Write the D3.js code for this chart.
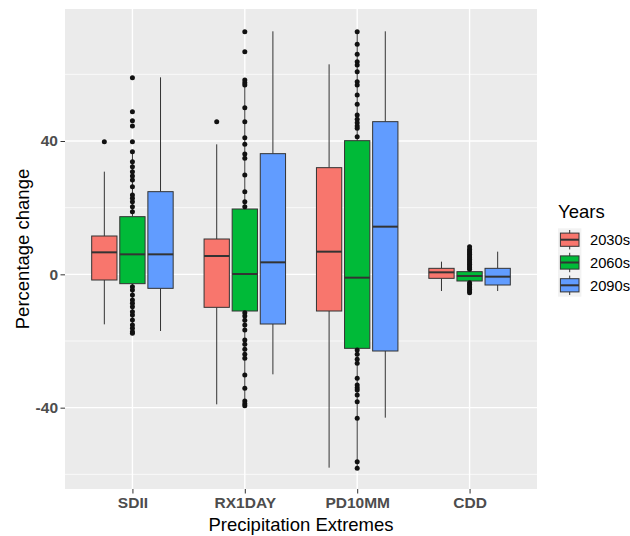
<!DOCTYPE html>
<html>
<head>
<meta charset="utf-8">
<script src="https://cdn.jsdelivr.net/npm/d3@7"></script>
<style>
  html, body { margin: 0; padding: 0; background: #ffffff; }
  svg { display: block; font-family: "Liberation Sans", Arial, sans-serif; }
</style>
</head>
<body>
<svg id="chart" width="630" height="536"></svg>
<script>
// Precipitation extremes, percentage change by period
const categories = ["SDII", "RX1DAY", "PD10MM", "CDD"];
const years = ["2030s", "2060s", "2090s"];
const colors = ["#F8766D", "#00BA38", "#619CFF"];
const yTicks = [-40, 0, 40];
const yMinor = [-60, -20, 20, 60];

// [lower whisker, Q1, median, Q3, upper whisker] for each category
const stats2030s = [
  [-15, -1.7, 6.6, 11.5, 30.8],
  [-39, -9.9, 5.5, 10.6, 39],
  [-58, -11, 6.8, 32, 63],
  [-5, -1.2, 0.6, 1.8, 3.8]
];
const stats2060s = [
  [-17.7, -2.8, 6, 17.3, 37],
  [-39.4, -11, 0.1, 19.6, 58.3],
  [-58.2, -22.2, -1, 40.1, 72.8],
  [-5.5, -2, -0.5, 0.8, 8.3]
];
const stats2090s = [
  [-17, -4.2, 6, 24.8, 59.1],
  [-30, -14.9, 3.6, 36.2, 72.9],
  [-43, -23, 14.3, 45.8, 72.9],
  [-5, -3.2, -0.7, 1.8, 6.8]
];

// outlying points for each category
const out2030s = [[39.8], [45.8], [], []];
const out2060s = [
  [59, 48.8, 46.1, 44.5, 39.8, 36.8, 33.8, 32.3, 30.8, 29.5, 28.3, 26.3, 23.8, 22.8, 21.8, 20.3, 18.8,
   -3.7, -4.7, -6.2, -7.7, -8.7, -9.7, -11.2, -12.2, -13.7, -15.2, -16.2, -17.2, -17.7],
  [72.8, 66.8, 58.3, 57.5, 56.8, 50, 45.8, 41, 39, 36.1, 34.8, 29.8, 24.8, 21.8, 20.3,
   -11.5, -12.5, -13.8, -15.2, -16.7, -19.7, -21, -22.5, -24, -25.2, -30.2, -34.2, -38, -38.8, -39.4],
  [72.8, 69, 66, 63.8, 62.8, 60.8, 57.8, 56.8, 53.8, 51, 47.8, 46.5, 45.5, 44.5, 43.8, 41.3,
   -22.7, -24, -25.5, -26.7, -31.2, -33.2, -34, -34.7, -36.2, -38.2, -43.2, -56.2, -58.2],
  [1.5, 2, 2.5, 3, 3.5, 4, 4.5, 5, 5.5, 6, 6.5, 7, 7.5, 8.3,
   -2.5, -3, -3.5, -4, -4.5, -5, -5.5]
];
const out2090s = [[], [], [], []];

const statsByYear = [stats2030s, stats2060s, stats2090s];
const outByYear = [out2030s, out2060s, out2090s];

const svg = d3.select("#chart");
const panel = { left: 65, right: 537, top: 9, bottom: 489 };

const x = d3.scalePoint().domain(categories).range([panel.left, panel.right]).padding(0.6);
const step = x.step();
const dodge = d3.scaleBand().domain(years)
  .range([-0.375 * step, 0.375 * step])
  .paddingInner(0.1).paddingOuter(0.05);
const y = d3.scaleLinear().domain([-64.4, 79.6]).range([panel.bottom, panel.top]);

// panel background and grid
svg.append("rect")
  .attr("x", panel.left).attr("y", panel.top)
  .attr("width", panel.right - panel.left).attr("height", panel.bottom - panel.top)
  .attr("fill", "#EBEBEB");

const grid = svg.append("g");
grid.selectAll("line.minor").data(yMinor).join("line")
  .attr("x1", panel.left).attr("x2", panel.right)
  .attr("y1", d => y(d)).attr("y2", d => y(d))
  .attr("stroke", "#fff").attr("stroke-width", 0.7);
grid.selectAll("line.major").data(yTicks).join("line")
  .attr("x1", panel.left).attr("x2", panel.right)
  .attr("y1", d => y(d)).attr("y2", d => y(d))
  .attr("stroke", "#fff").attr("stroke-width", 1.4);
grid.selectAll("line.vmajor").data(categories).join("line")
  .attr("x1", d => x(d)).attr("x2", d => x(d))
  .attr("y1", panel.top).attr("y2", panel.bottom)
  .attr("stroke", "#fff").attr("stroke-width", 1.4);

// boxes
const boxes = [];
years.forEach((yr, i) => {
  categories.forEach((cat, j) => {
    const s = statsByYear[i][j];
    boxes.push({ cat, yr, color: colors[i], lo: s[0], q1: s[1], med: s[2], q3: s[3], hi: s[4], out: outByYear[i][j] });
  });
});

const bw = dodge.bandwidth();
const cx = d => x(d.cat) + dodge(d.yr) + bw / 2;

const g = svg.append("g");
const bg = g.selectAll("g.box").data(boxes).join("g");

bg.append("line")
  .attr("x1", cx).attr("x2", cx)
  .attr("y1", d => y(d.q3)).attr("y2", d => y(d.hi))
  .attr("stroke", "#333").attr("stroke-width", 1);
bg.append("line")
  .attr("x1", cx).attr("x2", cx)
  .attr("y1", d => y(d.q1)).attr("y2", d => y(d.lo))
  .attr("stroke", "#333").attr("stroke-width", 1);
bg.append("rect")
  .attr("x", d => cx(d) - bw / 2).attr("width", bw)
  .attr("y", d => y(d.q3)).attr("height", d => y(d.q1) - y(d.q3))
  .attr("fill", d => d.color).attr("stroke", "#333").attr("stroke-width", 1);
bg.append("line")
  .attr("x1", d => cx(d) - bw / 2).attr("x2", d => cx(d) + bw / 2)
  .attr("y1", d => y(d.med)).attr("y2", d => y(d.med))
  .attr("stroke", "#333").attr("stroke-width", 2);
bg.selectAll("circle").data(d => d.out.map(v => ({ v, d }))).join("circle")
  .attr("cx", p => cx(p.d)).attr("cy", p => y(p.v))
  .attr("r", 2.5).attr("fill", "#111");

// axes
const yAxis = svg.append("g")
  .attr("transform", `translate(${panel.left},0)`)
  .call(d3.axisLeft(y).tickValues(yTicks).tickSize(4.5).tickPadding(2.5).tickFormat(d => String(d)));
const xAxis = svg.append("g")
  .attr("transform", `translate(0,${panel.bottom})`)
  .call(d3.axisBottom(x).tickSize(4.5).tickPadding(3));
[yAxis, xAxis].forEach(a => {
  a.select(".domain").remove();
  a.selectAll(".tick line").attr("stroke", "#333").attr("stroke-width", 1);
  a.selectAll(".tick text")
    .attr("fill", "#4D4D4D").attr("font-size", 15.5).attr("font-weight", "bold")
    .attr("font-family", "Liberation Sans, Arial, sans-serif");
});

// axis titles
svg.append("text")
  .attr("x", (panel.left + panel.right) / 2).attr("y", 531)
  .attr("text-anchor", "middle").attr("font-size", 18.5).attr("fill", "#000")
  .text("Precipitation Extremes");
svg.append("text")
  .attr("transform", `translate(29,${(panel.top + panel.bottom) / 2}) rotate(-90)`)
  .attr("text-anchor", "middle").attr("font-size", 18.5).attr("fill", "#000")
  .text("Percentage change");

// legend
const legend = svg.append("g").attr("transform", "translate(558,0)");
legend.append("text").attr("x", 0).attr("y", 218)
  .attr("font-size", 18.5).attr("fill", "#000").text("Years");
const keyH = 22.8, keyW = 23.4, keyTop = 228.3;
const key = legend.selectAll("g.key").data(years).join("g")
  .attr("transform", (d, i) => `translate(0,${keyTop + i * keyH})`);
key.append("rect").attr("width", keyW).attr("height", keyH).attr("fill", "#F2F2F2");
key.append("line")
  .attr("x1", keyW / 2).attr("x2", keyW / 2).attr("y1", 1.7).attr("y2", keyH - 1.7)
  .attr("stroke", "#333").attr("stroke-width", 1);
key.append("rect")
  .attr("x", 2.4).attr("width", keyW - 4.8)
  .attr("y", keyH / 2 - 6.6).attr("height", 13.2)
  .attr("fill", (d, i) => colors[i]).attr("stroke", "#333").attr("stroke-width", 1);
key.append("line")
  .attr("x1", 2.4).attr("x2", keyW - 2.4).attr("y1", keyH / 2).attr("y2", keyH / 2)
  .attr("stroke", "#333").attr("stroke-width", 2);
key.append("text")
  .attr("x", 32).attr("y", keyH / 2 + 5.3)
  .attr("font-size", 14.7).attr("fill", "#000").text(d => d);
</script>
</body>
</html>
